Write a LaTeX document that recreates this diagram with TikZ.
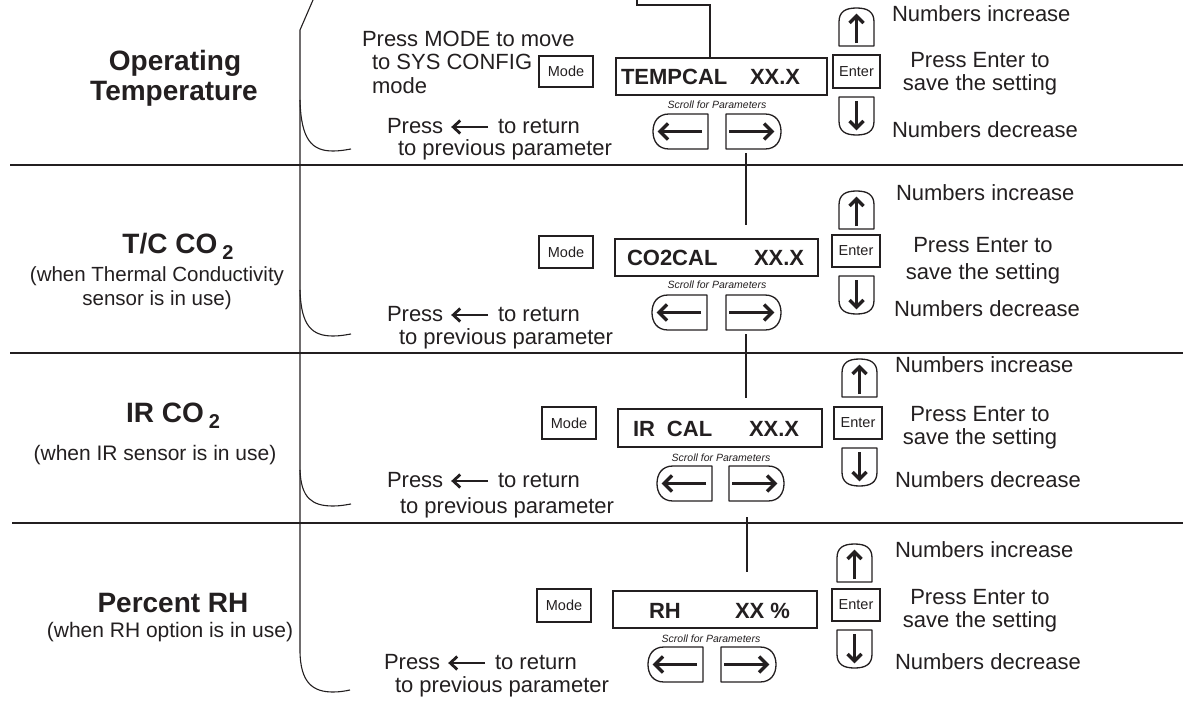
\documentclass[tikz,border=0pt]{standalone}
\usepackage{fontspec}
\setmainfont{Liberation Sans}
\usetikzlibrary{calc}

\definecolor{ink}{RGB}{35,31,32}

\begin{document}
\begin{tikzpicture}[x=1pt,y=-1pt,
  every node/.style={inner sep=0pt, outer sep=0pt, text=ink},
  rule/.style={draw=ink, line width=1.2pt},
  wire/.style={draw=ink, line width=1.1pt},
  keybox/.style={draw=ink, line width=1.1pt, font=\fontsize{14.5}{17}\selectfont, anchor=center},
  lcd/.style={draw=ink, line width=1.2pt, anchor=center},
  lcdtxt/.style={font=\bfseries\fontsize{22}{26}\selectfont, anchor=base west},
  note/.style={font=\fontsize{22}{26}\selectfont},
  title/.style={font=\bfseries\fontsize{28}{32}\selectfont, anchor=base},
  sub/.style={font=\fontsize{21}{25}\selectfont, anchor=base},
  scroll/.style={font=\itshape\fontsize{10.5}{12}\selectfont, anchor=base},
  btn/.style={draw=ink, line width=1.3pt, line join=round},
  glyph/.style={draw=ink, line width=3.4pt, line join=miter, line cap=butt},
  txtglyph/.style={draw=ink, line width=2.8pt, line join=miter, line cap=butt},
  brace/.style={draw=ink, line width=1.1pt},
  % arrow keys: origin at the top left corner of each key
  leftkey/.pic={
    \draw[btn] (55,0) -- (16,0) .. controls (5,0) and (0,8) .. (0,17.5)
      .. controls (0,27) and (5,35) .. (16,35) -- (55,35) -- cycle;
    \draw[glyph] (49,17.5) -- (7,17.5);
    \draw[glyph] (15,9.5) -- (7,17.5) -- (15,25.5);
  },
  rightkey/.pic={
    \draw[btn] (0,0) -- (39,0) .. controls (50,0) and (55,8) .. (55,17.5)
      .. controls (55,27) and (50,35) .. (39,35) -- (0,35) -- cycle;
    \draw[glyph] (3,17.5) -- (46,17.5);
    \draw[glyph] (38,9.5) -- (46,17.5) -- (38,25.5);
  },
  upkey/.pic={
    \draw[btn] (0,38) -- (0,14) .. controls (0,4) and (6,0) .. (17.5,0)
      .. controls (29,0) and (35,4) .. (35,14) -- (35,38) -- cycle;
    \draw[glyph] (17.5,35) -- (17.5,8);
    \draw[glyph] (10.5,15) -- (17.5,8) -- (24.5,15);
  },
  downkey/.pic={
    \draw[btn] (0,0) -- (0,24) .. controls (0,34) and (6,38) .. (17.5,38)
      .. controls (29,38) and (35,34) .. (35,24) -- (35,0) -- cycle;
    \draw[glyph] (17.5,4) -- (17.5,31);
    \draw[glyph] (10.5,24) -- (17.5,31) -- (24.5,24);
  },
  % the arrow printed inside "Press <- to return": origin at its tip
  backarrow/.pic={
    \draw[txtglyph] (35,0) -- (0,0);
    \draw[txtglyph] (7,-6.5) -- (0,0) -- (7,6.5);
  },
]
\useasboundingbox (0,0) rectangle (1183,704);

% section dividers
\draw[rule] (10,165) -- (1183,165);
\draw[rule] (10,353) -- (1183,353);
\draw[rule] (12,523) -- (1183,523);

% left bracket with its branches
\draw[brace] (313,0) -- (300,30) -- (300,650) .. controls (300,684) and (314,692) .. (333,692) .. controls (340,692) and (345,691) .. (350,690);
\draw[brace] (300,100) .. controls (301,140) and (312,151) .. (333,151) .. controls (340,151) and (345,150) .. (351,149);
\draw[brace] (300,290) .. controls (301,326) and (312,336) .. (333,336) .. controls (340,336) and (345,335) .. (351,334);
\draw[brace] (300,470) .. controls (301,498) and (312,506) .. (333,506) .. controls (340,506) and (345,505) .. (351,504);

% ---------------- Operating Temperature ----------------
\node[title] (t1a) at (175,70) {Operating};
\node[title] (t1b) at (174,100) {Temperature};
\node[note, anchor=base west] (m1a) at (362,46) {Press MODE to move};
\node[note, anchor=base west] (m1b) at (372,69) {to SYS CONFIG};
\node[note, anchor=base west] (m1c) at (372,93) {mode};
\node[keybox, minimum width=54pt, minimum height=31pt] (mode1) at (566,71.5) {Mode};
\node[lcd, minimum width=211pt, minimum height=37pt] (d1) at (721.5,76.5) {};
\node[lcdtxt] (d1a) at (621,84) {TEMPCAL};
\node[lcdtxt] (d1b) at (750,84) {XX.X};
\node[scroll] (s1) at (717,108) {Scroll for Parameters};
\pic (lk1) at (653,114) {leftkey};
\pic (rk1) at (726,114) {rightkey};
\pic (uk1) at (839,8) {upkey};
\node[keybox, minimum width=47pt, minimum height=33pt] (e1) at (856.5,71.5) {Enter};
\pic (dk1) at (839,97) {downkey};
\node[note, anchor=base west] (ni1) at (892,21) {Numbers increase};
\node[note, anchor=base] (pe1) at (980,67) {Press Enter to};
\node[note, anchor=base] (st1) at (980,90) {save the setting};
\node[note, anchor=base west] (nd1) at (892,137) {Numbers decrease};
\node[note, anchor=base west] (pr1) at (387,133) {Press};
\node[note, anchor=base west] (rt1) at (498,133) {to return};
\node[note, anchor=base west] (pp1) at (398,155) {to previous parameter};
\pic at ($(pr1.base east)+(10,-6)$) {backarrow};

% ---------------- T/C CO2 ----------------
\node[title] (t2) at (178,253) {T/C CO\hspace{5pt}\raisebox{-6pt}{\fontsize{20}{20}\selectfont 2}};
\node[sub, font=\fontsize{20.5}{24}\selectfont] (t2a) at (157,281) {(when Thermal Conductivity};
\node[sub, font=\fontsize{20.5}{24}\selectfont] (t2b) at (157,305) {sensor is in use)};
\node[keybox, minimum width=54pt, minimum height=32pt] (mode2) at (566,252) {Mode};
\node[lcd, minimum width=203pt, minimum height=37pt] (d2) at (716.5,257.5) {};
\node[lcdtxt] (d2a) at (627,265) {CO2CAL};
\node[lcdtxt] (d2b) at (754,265) {XX.X};
\node[scroll] (s2) at (717,288) {Scroll for Parameters};
\pic (lk2) at (652,295) {leftkey};
\pic (rk2) at (726,295) {rightkey};
\pic (uk2) at (839,191) {upkey};
\node[keybox, minimum width=48pt, minimum height=32pt] (e2) at (856,251) {Enter};
\pic (dk2) at (839,276) {downkey};
\node[note, anchor=base west] (ni2) at (896,200) {Numbers increase};
\node[note, anchor=base] (pe2) at (983,252) {Press Enter to};
\node[note, anchor=base] (st2) at (983,279) {save the setting};
\node[note, anchor=base west] (nd2) at (894,316) {Numbers decrease};
\node[note, anchor=base west] (pr2) at (387,321) {Press};
\node[note, anchor=base west] (rt2) at (498,321) {to return};
\node[note, anchor=base west] (pp2) at (399,344) {to previous parameter};
\pic at ($(pr2.base east)+(10,-6)$) {backarrow};

% ---------------- IR CO2 ----------------
\node[title] (t3) at (173,422) {IR CO\hspace{5pt}\raisebox{-6pt}{\fontsize{20}{20}\selectfont 2}};
\node[sub] (t3a) at (155,460) {(when IR sensor is in use)};
\node[keybox, minimum width=54pt, minimum height=32pt] (mode3) at (569,423) {Mode};
\node[lcd, minimum width=204pt, minimum height=38pt] (d3) at (720,428) {};
\node[lcdtxt] (d3a) at (633,436) {IR\hspace{12pt}CAL};
\node[lcdtxt] (d3b) at (749,436) {XX.X};
\node[scroll] (s3) at (721,461) {Scroll for Parameters};
\pic (lk3) at (657,466) {leftkey};
\pic (rk3) at (729,466) {rightkey};
\pic (uk3) at (842,359) {upkey};
\node[keybox, minimum width=48pt, minimum height=32pt] (e3) at (858,423) {Enter};
\pic (dk3) at (842,448) {downkey};
\node[note, anchor=base west] (ni3) at (895,372) {Numbers increase};
\node[note, anchor=base] (pe3) at (980,421) {Press Enter to};
\node[note, anchor=base] (st3) at (980,444) {save the setting};
\node[note, anchor=base west] (nd3) at (895,487) {Numbers decrease};
\node[note, anchor=base west] (pr3) at (387,487) {Press};
\node[note, anchor=base west] (rt3) at (498,487) {to return};
\node[note, anchor=base west] (pp3) at (400,513) {to previous parameter};
\pic at ($(pr3.base east)+(10,-6)$) {backarrow};

% ---------------- Percent RH ----------------
\node[title] (t4) at (173,612) {Percent RH};
\node[sub] (t4a) at (170,637) {(when RH option is in use)};
\node[keybox, minimum width=54pt, minimum height=33pt] (mode4) at (564,605.5) {Mode};
\node[lcd, minimum width=204pt, minimum height=37pt] (d4) at (715,609.5) {};
\node[lcdtxt] (d4a) at (649,618) {RH};
\node[lcdtxt] (d4b) at (735,618) {XX \%};
\node[scroll] (s4) at (711,642) {Scroll for Parameters};
\pic (lk4) at (648,647) {leftkey};
\pic (rk4) at (721,647) {rightkey};
\pic (uk4) at (837,544) {upkey};
\node[keybox, minimum width=48pt, minimum height=32pt] (e4) at (856,605) {Enter};
\pic (dk4) at (837,630) {downkey};
\node[note, anchor=base west] (ni4) at (895,557) {Numbers increase};
\node[note, anchor=base] (pe4) at (980,604) {Press Enter to};
\node[note, anchor=base] (st4) at (980,627) {save the setting};
\node[note, anchor=base west] (nd4) at (895,669) {Numbers decrease};
\node[note, anchor=base west] (pr4) at (384,669) {Press};
\node[note, anchor=base west] (rt4) at (495,669) {to return};
\node[note, anchor=base west] (pp4) at (395,692) {to previous parameter};
\pic at ($(pr4.base east)+(10,-6)$) {backarrow};

% ---------------- links between the parameter screens ----------------
\coordinate (j0) at (637,0);
\draw[wire] (j0) -- ++(0,5) -| ([xshift=-11.5pt]d1.north);
\coordinate (j1a) at (746,153);
\coordinate (j1b) at (746,225);
\draw[wire] (j1a) -- (j1b);
\coordinate (j2a) at (746,334);
\coordinate (j2b) at (746,398);
\draw[wire] (j2a) -- (j2b);
\coordinate (j3a) at (747,517);
\coordinate (j3b) at (747,572);
\draw[wire] (j3a) -- (j3b);
\end{tikzpicture}
\end{document}
